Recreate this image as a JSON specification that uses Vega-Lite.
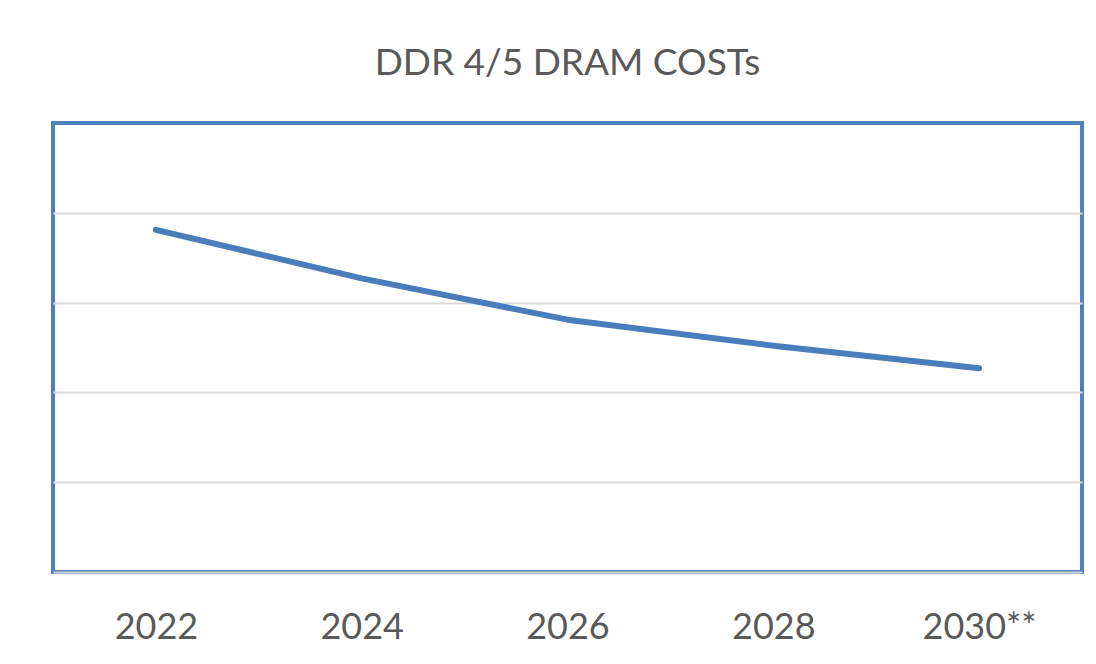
{
  "$schema": "https://vega.github.io/schema/vega-lite/v6.json",
  "autosize": {"type": "none"},
  "width": 1029,
  "height": 449,
  "padding": {"left": 53, "top": 123, "right": 14, "bottom": 92},
  "background": "white",
  "title": {
    "text": "DDR 4/5 DRAM COSTs",
    "anchor": "middle",
    "baseline": "alphabetic",
    "offset": 11,
    "font": "Lato",
    "fontSize": 37,
    "fontWeight": "normal",
    "color": "#595959"
  },
  "config": {
    "view": {"stroke": "#4f81bd", "strokeWidth": 4}
  },
  "data": {
    "values": [
      {"year": "2022", "cost": 3.81},
      {"year": "2024", "cost": 3.27},
      {"year": "2026", "cost": 2.81},
      {"year": "2028", "cost": 2.52},
      {"year": "2030**", "cost": 2.27}
    ]
  },
  "mark": {"type": "line", "color": "#4a7ebb", "strokeWidth": 6, "strokeCap": "round", "strokeJoin": "round"},
  "encoding": {
    "x": {
      "field": "year",
      "type": "ordinal",
      "sort": null,
      "scale": {"type": "point", "padding": 0.5},
      "axis": {
        "title": null,
        "labelAngle": 0,
        "labelFont": "Lato",
        "labelFontSize": 36,
        "labelColor": "#595959",
        "labelPadding": 38,
        "ticks": false,
        "grid": false,
        "domainColor": "#d9d9d9",
        "domainWidth": 2
      }
    },
    "y": {
      "field": "cost",
      "type": "quantitative",
      "scale": {"domain": [0, 5], "nice": false, "zero": true},
      "axis": {
        "title": null,
        "labels": false,
        "ticks": false,
        "domain": false,
        "values": [1, 2, 3, 4],
        "grid": true,
        "gridColor": "#d9d9d9",
        "gridWidth": 2
      }
    }
  }
}
